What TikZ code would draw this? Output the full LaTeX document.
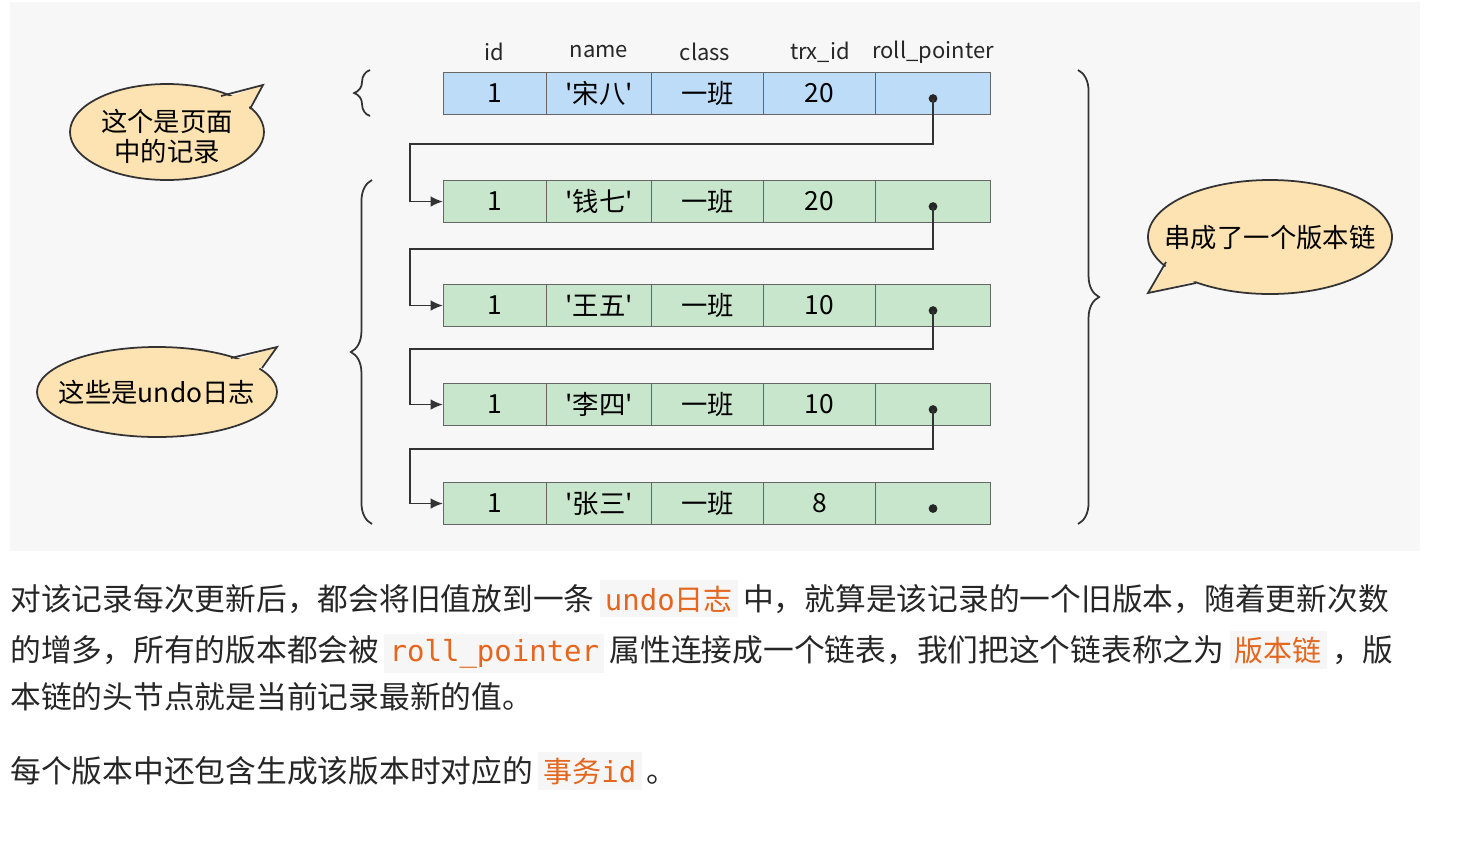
\documentclass[tikz,border=0pt]{standalone}
\usepackage{fontspec}
\setmainfont{Noto Sans CJK SC}
\newfontfamily\cjk{Noto Sans CJK SC}
\newfontfamily\codef{DejaVu Sans Mono}
\usetikzlibrary{arrows.meta,decorations.pathreplacing}
\definecolor{bluec}{HTML}{BDDCF8}
\definecolor{greenc}{HTML}{C8E6CC}
\definecolor{bub}{HTML}{FDE2B2}
\definecolor{codeo}{HTML}{E5661E}
\definecolor{codebg}{HTML}{F6F6F6}
\newcommand{\q}{\textquotesingle}
\tikzset{
 cell/.style={draw=black!60,line width=0.6pt,minimum height=0.84cm,inner sep=0pt,font=\fontsize{15}{15}\selectfont,anchor=north west},
 hdr/.style={font=\fontsize{12.5}{12.5}\selectfont,text=black!85},
 link/.style={line width=1pt,draw=black!80},
 arr/.style={link,-{Latex[length=7pt,width=6pt]}},
 dot/.style={circle,fill=black!85,inner sep=0pt,minimum size=5pt},
 brace/.style={decorate,decoration={brace,amplitude=9pt},line width=1pt,draw=black!80},
 bubble/.style={fill=bub,draw=black!80,line width=1pt},
 btxt/.style={font=\fontsize{15}{17}\selectfont,align=center},
 para/.style={anchor=base west,inner sep=0pt,font=\fontsize{17.5}{17.5}\selectfont,text=black!85},
 code/.style={fill=codebg,text=codeo,inner sep=3pt,font=\codef\fontsize{16.5}{16.5}\selectfont}
}
\begin{document}
\begin{tikzpicture}[x=0.02cm,y=-0.02cm]
\useasboundingbox (0,0) rectangle (1481,846);
\fill[black!3] (10,2) rectangle (1420,551);
% headers
\foreach \t/\x in {id/494,name/599,class/705,trx\_id/820,roll\_pointer/933}
  \node[hdr] at (\x,52) {\t};
% rows
\foreach \r/\y/\c/\na/\tr in {1/72/bluec/宋八/20,2/180/greenc/钱七/20,3/284/greenc/王五/10,4/383/greenc/李四/10,5/482/greenc/张三/8}{
  \node[cell,fill=\c,minimum width=2.06cm] (r\r a) at (443,\y) {1};
  \node[cell,fill=\c,minimum width=2.10cm] (r\r b) at (546,\y) {\q\na\q};
  \node[cell,fill=\c,minimum width=2.24cm] (r\r c) at (651,\y) {一班};
  \node[cell,fill=\c,minimum width=2.24cm] (r\r d) at (763,\y) {\tr};
  \node[cell,fill=\c,minimum width=2.30cm] (r\r e) at (875,\y) {};
  \node[dot] (d\r) at ([yshift=-0.1cm]r\r e.center) {};
}
\foreach \a/\b/\ym in {1/2/144,2/3/249,3/4/349,4/5/449}{
  \draw[link] (d\a.center) -- (d\a.center |- 0,\ym) coordinate (t\a) -- (410,\ym) coordinate (u\a) -- (u\a |- r\b a.west) coordinate (v\a);
  \draw[arr] (v\a) -- (r\b a.west);
}
% braces
\coordinate (b1t) at (370,70); \coordinate (b1b) at (370,116);
\draw[brace] (b1b) -- (b1t);
\coordinate (b2t) at (372,180); \coordinate (b2b) at (372,524);
\draw[brace,decoration={amplitude=12pt}] (b2b) -- (b2t);
\coordinate (b3t) at (1078,70); \coordinate (b3b) at (1078,524);
\draw[brace,decoration={amplitude=12pt}] (b3t) -- (b3b);
% bubbles
\draw[bubble] (167,132) ellipse[x radius=97,y radius=48];
\fill[bub] (222,99) -- (263,85) -- (246,112) -- (232,118) -- cycle;
\draw[line width=1pt,black!80] (221,96) -- (263,85) -- (250,109);
\node[btxt] (c1) at (167,136) {这个是页面\\中的记录};
\draw[bubble] (157,392) ellipse[x radius=120,y radius=45];
\fill[bub] (232,361) -- (277,347) -- (258,370) -- (240,378) -- cycle;
\draw[line width=1pt,black!80] (231,358) -- (277,347) -- (262,368);
\node[btxt] (c2) at (157,392) {这些是undo日志};
\draw[bubble] (1270,237) ellipse[x radius=122,y radius=57];
\fill[bub] (1170,260) -- (1148,293) -- (1200,280) -- (1190,270) -- cycle;
\draw[line width=1pt,black!80] (1166,262) -- (1148,293) -- (1196,283);
\node[btxt] (c3) at (1270,238) {串成了一个版本链};
% paragraphs
\node[para] (p1) at (10,610) {对该记录每次更新后，都会将旧值放到一条\,\tikz[baseline=(k.base)]\node[code](k){undo\cjk 日志};\,中，就算是该记录的一个旧版本，随着更新次数};
\node[para] (p2) at (10,661) {的增多，所有的版本都会被\,\tikz[baseline=(k.base)]\node[code](k){roll\_pointer};\,属性连接成一个链表，我们把这个链表称之为\,\tikz[baseline=(k.base)]\node[code](k){\cjk 版本链};\,，版};
\node[para] (p3) at (10,708) {本链的头节点就是当前记录最新的值。};
\node[para] (p4) at (10,782) {每个版本中还包含生成该版本时对应的\,\tikz[baseline=(k.base)]\node[code](k){\cjk 事务\codef id};\,。};
\end{tikzpicture}
\end{document}
